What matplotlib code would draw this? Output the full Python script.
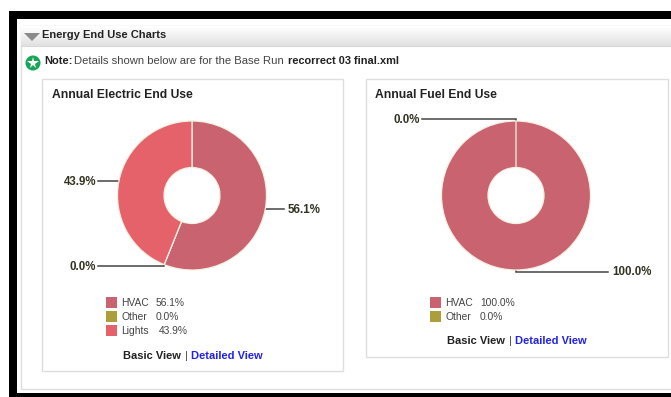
import matplotlib
matplotlib.use("Agg")
import matplotlib.pyplot as plt
from matplotlib.patches import Rectangle, Circle, Polygon
from matplotlib.lines import Line2D
import numpy as np

W, H = 671, 397

electric_names = ["HVAC", "Other", "Lights"]
electric_values = [56.1, 0.0, 43.9]
fuel_names = ["HVAC", "Other"]
fuel_values = [100.0, 0.0]
palette = {"HVAC": "#c9636f", "Other": "#ad9e3c", "Lights": "#e5626b"}

plt.rcParams["font.family"] = ["Liberation Sans", "DejaVu Sans"]

fig = plt.figure(figsize=(W / 100, H / 100), dpi=100, facecolor="white")
page = fig.add_axes([0, 0, 1, 1])
page.set_xlim(0, W)
page.set_ylim(H, 0)
page.axis("off")


def rect(x0, y0, x1, y1, face, edge="none", lw=0.0, z=1):
    page.add_patch(Rectangle((x0, y0), x1 - x0, y1 - y0, facecolor=face,
                             edgecolor=edge, linewidth=lw, zorder=z))


# Window frame
rect(9, 11, W, H, "black", z=0)
rect(17, 19, W, 393, "white", z=0.5)
rect(20.5, 25.5, W + 5, 388.5, "white", "#dddddd", 1.0, z=0.6)

# Section header
band = np.linspace(1.0, 0.88, 32).reshape(-1, 1)
page.imshow(band, extent=(21, W, 46, 26), cmap="gray", vmin=0, vmax=1,
            aspect="auto", zorder=1)
page.set_xlim(0, W)
page.set_ylim(H, 0)
page.add_line(Line2D([21, W], [46, 46], color="#d8d8d8", lw=0.8, zorder=2))
page.add_patch(Polygon([(24, 33), (40, 33), (32, 41)], facecolor="#8a8a8a",
                       edgecolor="none", zorder=3))
page.text(42.5, 34.5, "Energy End Use Charts", fontsize=8, fontweight="bold",
          color="#222222", va="center", zorder=3)

# Note line
page.add_patch(Circle((33, 63), 7.5, facecolor="#18a558", edgecolor="none", zorder=3))
page.plot([33], [63], marker="*", ms=8.5, color="white", mew=0, zorder=4)
page.text(44, 61.5, "Note:", fontsize=8, fontweight="bold", color="#222222", va="center")
page.text(74.5, 61.5, "Details shown below are for the Base Run", fontsize=8.1,
          color="#444444", va="center")
page.text(287.5, 61.5, "recorrect 03 final.xml", fontsize=7.9, fontweight="bold",
          color="#222222", va="center")


def donut(cx, cy, values, names, radius=74.5, hole=28.0):
    ax = fig.add_axes([(cx - radius - 2) / W, 1 - (cy + radius + 2) / H,
                       (2 * radius + 4) / W, (2 * radius + 4) / H])
    ax.pie(values, colors=[palette[n] for n in names], startangle=90,
           counterclock=False, radius=radius / (radius + 2),
           wedgeprops=dict(width=(radius - hole) / (radius + 2),
                           edgecolor="#f3f1e2", linewidth=0.9))
    ax.set_xlim(-1, 1)
    ax.set_ylim(-1, 1)
    ax.set_aspect("auto")
    ax.patch.set_alpha(0)


def leader(xs, ys, value, side):
    page.add_line(Line2D(xs, ys, color="#444444", lw=1.1, zorder=5,
                         solid_joinstyle="miter"))
    x_text = xs[0] - 2 if side == "left" else xs[-1] + 4
    page.text(x_text, ys[0] + 0.7 if side == "left" else ys[-1] + 0.7,
              f"{value:.1f}%", fontsize=8.3, fontweight="bold",
              color="#333322", va="center",
              ha="right" if side == "left" else "left", zorder=5)


def legend(x, y, names, values, value_x):
    for i, (n, v) in enumerate(zip(names, values)):
        top = y + 14 * i
        rect(x, top, x + 10.5, top + 10.5, palette[n], z=3)
        page.text(x + 15, top + 5.6, n, fontsize=7.4, color="#444444", va="center")
        page.text(value_x[i], top + 5.6, f"{v:.1f}%", fontsize=7.4,
                  color="#444444", va="center")


def links(x, y):
    page.text(x, y, "Basic View", fontsize=8, fontweight="bold", color="#222222", va="center")
    page.text(x + 62, y, "|", fontsize=8, color="#444444", va="center")
    page.text(x + 68, y, "Detailed View", fontsize=8, fontweight="bold",
              color="#2222ee", va="center")


# Electric panel
rect(42, 79, 343, 370.5, "white", "#dedede", 1.0, z=1)
page.text(51.5, 94.5, "Annual Electric End Use", fontsize=8.7, fontweight="bold",
          color="#222222", va="center")
donut(192, 195.5, electric_values, electric_names)
leader([265, 284], [209, 209], electric_values[0], "right")
leader([98, 118], [181, 181], electric_values[2], "left")
leader([98, 163.5, 163.5], [266, 266, 264], electric_values[1], "left")
legend(106, 297, electric_names, electric_values, [156, 156, 159])
links(123, 356)

# Fuel panel
rect(366, 79, 667.5, 356.5, "white", "#dedede", 1.0, z=1)
page.text(375, 94.5, "Annual Fuel End Use", fontsize=8.7, fontweight="bold",
          color="#222222", va="center")
donut(516, 195.5, fuel_values, fuel_names)
leader([422, 516, 516], [119, 119, 121], fuel_values[1], "left")
leader([516, 516, 608], [270, 271.5, 271.5], fuel_values[0], "right")
legend(430, 297, fuel_names, fuel_values, [480, 480])
links(447, 341)

fig.savefig("out.png", dpi=100)
